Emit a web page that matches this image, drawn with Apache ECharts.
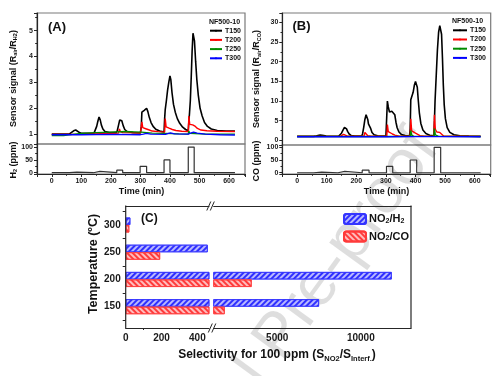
<!DOCTYPE html>
<html><head><meta charset="utf-8">
<script src="https://cdn.jsdelivr.net/npm/echarts@6/dist/echarts.min.js"></script>
<style>html,body{margin:0;padding:0;background:#fff}#c{width:504px;height:376px}</style>
</head><body><div id="c"></div>
<script>
const FONT = '"Liberation Sans", Arial, Helvetica, sans-serif';

// ---------- DATA ----------
const tempNames = ['T150', 'T200', 'T250', 'T300'];
const tempColors = ['#000000', '#ff0000', '#008a00', '#0000ff'];

// Panel A : signal to H2 (Rair/RH2), [time min, signal]
const aT150 = [[0,1.0],[30,1.0],[60,1.01],[66,1.06],[74,1.13],[81,1.16],[87,1.13],[94,1.06],[102,1.03],[125,1.03],[143,1.04],[148,1.1],[152,1.3],[156,1.5],[160,1.66],[164,1.55],[168,1.35],[173,1.2],[180,1.1],[195,1.06],[218,1.06],[222,1.15],[226,1.35],[230,1.55],[233,1.62],[237,1.52],[242,1.32],[247,1.18],[255,1.1],[275,1.06],[300,1.05],[303,1.3],[305,1.85],[309,1.87],[313,1.92],[317,1.98],[321,2.0],[325,1.88],[330,1.65],[336,1.45],[343,1.3],[352,1.19],[365,1.12],[380,1.08],[382,1.6],[384,1.95],[388,2.3],[392,2.7],[396,3.0],[400,3.25],[403,3.1],[407,2.6],[412,2.15],[418,1.85],[425,1.6],[433,1.42],[443,1.27],[453,1.18],[462,1.13],[464,1.5],[466,1.78],[469,2.3],[472,3.2],[475,4.2],[478,4.9],[480,4.95],[483,4.6],[487,3.8],[491,3.1],[496,2.5],[502,2.0],[509,1.7],[517,1.45],[527,1.3],[540,1.2],[560,1.14],[590,1.12],[620,1.12]];
const aT200 = [[0,0.99],[100,1.0],[200,1.03],[226,1.04],[229,1.2],[232,1.1],[240,1.06],[300,1.05],[303,1.06],[305,1.48],[308,1.25],[313,1.2],[318,1.21],[322,1.22],[328,1.17],[340,1.12],[360,1.1],[382,1.08],[384,1.6],[387,1.28],[392,1.22],[397,1.23],[402,1.24],[408,1.18],[420,1.14],[440,1.11],[462,1.1],[464,1.7],[467,1.38],[472,1.33],[477,1.36],[481,1.37],[486,1.3],[493,1.22],[505,1.16],[525,1.13],[560,1.11],[620,1.1]];
const aT250 = [[0,0.95],[40,0.95],[70,0.99],[100,1.03],[150,1.06],[200,1.08],[250,1.1],[280,1.09],[303,1.08],[305,1.13],[308,1.06],[340,1.04],[382,1.03],[384,1.08],[387,1.03],[430,1.01],[462,1.0],[464,1.12],[467,1.03],[520,1.0],[620,1.0]];
const aT300 = [[0,0.98],[100,0.98],[200,0.99],[300,0.98],[310,1.0],[320,1.03],[335,1.0],[385,0.99],[395,1.03],[402,1.05],[415,1.01],[462,1.0],[472,1.05],[480,1.08],[492,1.04],[520,1.0],[570,0.98],[620,0.97]];
const h2Steps = [[0,0],[60,2],[85,0],[141,5],[163,0],[220,10],[240,0],[299,25],[321,0],[380,50],[400,0],[462,100],[482,0],[620,0]];

// Panel B : signal to CO (Rair/RCO)
const bT150 = [[0,1.0],[55,1.0],[62,1.05],[70,1.2],[78,1.33],[84,1.32],[90,1.2],[98,1.08],[110,1.02],[140,1.02],[145,1.2],[150,1.8],[155,2.6],[160,3.3],[163,3.4],[167,2.9],[171,2.2],[176,1.6],[183,1.2],[195,1.05],[218,1.05],[221,1.6],[225,3.3],[229,5.3],[233,6.5],[236,6.6],[239,5.2],[241,4.2],[244,4.3],[248,3.1],[253,2.0],[260,1.4],[272,1.15],[300,1.05],[303,1.5],[305,10.0],[308,8.5],[312,7.2],[316,7.0],[320,7.4],[326,7.5],[330,6.5],[334,4.6],[338,3.2],[344,2.1],[352,1.5],[365,1.2],[380,1.1],[382,3.0],[384,10.3],[388,10.8],[392,12.2],[396,14.0],[400,15.0],[403,15.3],[406,13.5],[409,10.5],[413,7.0],[418,4.3],[425,2.6],[435,1.7],[448,1.3],[462,1.15],[464,5.0],[466,10.0],[470,16.5],[474,23.0],[478,27.5],[482,29.2],[485,29.3],[488,27.0],[491,21.0],[494,14.0],[497,9.0],[501,5.5],[507,3.2],[516,2.0],[530,1.4],[550,1.15],[580,1.05],[620,1.0]];
const bT200 = [[0,1.0],[145,1.0],[150,1.1],[157,1.5],[162,1.3],[170,1.05],[226,1.05],[229,2.0],[232,1.6],[238,1.2],[250,1.05],[303,1.05],[305,4.0],[308,2.2],[313,1.7],[322,1.6],[330,1.3],[345,1.05],[382,1.05],[384,5.5],[387,2.4],[392,1.9],[400,1.8],[406,1.6],[415,1.2],[430,1.05],[462,1.05],[464,6.5],[467,2.8],[472,2.1],[482,2.0],[486,1.5],[495,1.1],[620,1.0]];
const bT250 = [[0,0.95],[303,0.95],[305,1.3],[308,1.0],[382,1.0],[384,2.5],[387,1.3],[395,1.0],[462,1.0],[464,3.0],[467,1.4],[478,1.0],[620,0.95]];
const bT300 = [[0,0.9],[150,0.9],[300,0.9],[400,0.92],[480,0.93],[620,0.9]];
const coSteps = [[0,0],[56,2],[83,0],[138,5],[161,0],[220,10],[243,0],[302,25],[323,0],[382,50],[404,0],[463,100],[485,0],[620,0]];

// Panel C : selectivity for 100 ppm
const tempCats = ['150', '200', '250', '300'];
const selH2 = [7500, 11850, 458, 26];
const selCO = [1860, 3470, 192, 20];

// ---------- HELPERS ----------
const DARK = '#262626';
function plainNum(v) { return String(v); }
function valAxis(grid, min, max, split, extra) {
  return Object.assign({
    gridIndex: grid, type: 'value', min: min, max: max, splitNumber: split,
    axisLine: { show: true, onZero: false, lineStyle: { color: DARK, width: 1.2 } },
    axisTick: { show: true, inside: false, length: 3, lineStyle: { color: DARK, width: 1 } },
    minorTick: { show: true, splitNumber: 2, length: 1.8, lineStyle: { color: DARK, width: 1 } },
    axisLabel: { show: true, fontSize: 7, fontWeight: 'bold', fontFamily: FONT, color: '#1a1a1a', margin: 4, showMinLabel: false, showMaxLabel: false, formatter: plainNum },
    splitLine: { show: false }, minorSplitLine: { show: false }
  }, extra || {});
}
function hiddenAxis(grid, min, max) {
  return { gridIndex: grid, type: 'value', min: min, max: max, show: false, splitLine: { show: false } };
}
function lineSeries(name, data, color, xi, yi, w) {
  return { type: 'line', name: name, data: data, xAxisIndex: xi, yAxisIndex: yi, symbol: 'circle', symbolSize: 2, showSymbol: false,
    lineStyle: { color: color, width: w || 1.4 }, itemStyle: { color: color }, clip: true, animation: false };
}
function stepSeries(data, xi, yi) {
  return { type: 'line', name: 'gas' + xi, data: data, xAxisIndex: xi, yAxisIndex: yi, symbol: 'none', step: 'end',
    lineStyle: { color: '#333', width: 1.2 }, itemStyle: { color: '#333' }, animation: false };
}
function gtext(x, y, text, size, extra) {
  const st = Object.assign({ text: text, fontSize: size, fontWeight: 'bold', fontFamily: FONT, fill: '#111', align: 'left', verticalAlign: 'middle' }, extra && extra.style || {});
  const o = { type: 'text', x: x, y: y, silent: true, style: st, z: 50 };
  if (extra && extra.rotation) o.rotation = extra.rotation;
  return o;
}
function subRich(size) {
  return { s: { fontSize: size, fontWeight: 'bold', fontFamily: FONT, fill: '#111', color: '#111', verticalAlign: 'bottom', lineHeight: size } };
}
function gline(x1, y1, x2, y2, color, w) {
  return { type: 'line', silent: true, z: 50, shape: { x1: x1, y1: y1, x2: x2, y2: y2 }, style: { stroke: color, lineWidth: w } };
}

const blueDecal = { symbol: 'rect', symbolSize: 1, color: '#2f2fff', dashArrayX: [1, 0], dashArrayY: [1.4, 1.6], rotation: -Math.PI / 4 };
const redDecal = { symbol: 'rect', symbolSize: 1, color: '#ff3b3b', dashArrayX: [1, 0], dashArrayY: [1.4, 1.6], rotation: Math.PI / 4 };
const blueStyle = { color: '#b8b8ff', borderColor: '#3535ff', borderWidth: 0.8, decal: blueDecal };
const redStyle = { color: '#ffbcbc', borderColor: '#ff3a3a', borderWidth: 0.8, decal: redDecal };

const gridBorder = { show: true, borderColor: '#7a7a7a', borderWidth: 1.2, backgroundColor: 'transparent' };
const legendText = { fontSize: 7, fontWeight: 'bold', fontFamily: FONT, color: '#111', padding: [0, 0, 0, -2] };

// ---------- OPTION ----------
const option = {
  animation: false,
  backgroundColor: '#ffffff',
  grid: [
    Object.assign({ left: 37, top: 13, width: 208, height: 131 }, gridBorder),
    Object.assign({ left: 37, top: 144, width: 208, height: 30 }, gridBorder),
    Object.assign({ left: 282.3, top: 13, width: 208.4, height: 132 }, gridBorder),
    Object.assign({ left: 282.3, top: 145, width: 208.4, height: 29 }, gridBorder),
    { left: 125.7, top: 211.4, width: 83.3, height: 108.9 },
    { left: 213.7, top: 211.4, width: 197.3, height: 108.9 }
  ],
  xAxis: [
    hiddenAxis(0, -50, 654),
    valAxis(1, -50, 654, 7),
    hiddenAxis(2, -50, 654),
    valAxis(3, -50, 654, 7),
    valAxis(4, 0, 465, 2, { offset: 7.7, axisLabel: { fontSize: 10, fontWeight: 'bold', fontFamily: FONT, color: '#1a1a1a', margin: 5, showMinLabel: true, showMaxLabel: false, formatter: plainNum }, axisTick: { length: 3.5, lineStyle: { color: DARK } }, minorTick: { show: true, splitNumber: 2, length: 2, lineStyle: { color: DARK } } }),
    { gridIndex: 4, type: 'value', min: 0, max: 465, position: 'top', offset: 5.4, axisLine: { show: true, onZero: false, lineStyle: { color: DARK, width: 1.2 } }, axisTick: { show: false }, axisLabel: { show: false }, splitLine: { show: false } },
    valAxis(5, 1200, 13000, 2, { offset: 7.7, axisLabel: { fontSize: 10, fontWeight: 'bold', fontFamily: FONT, color: '#1a1a1a', margin: 5, showMinLabel: false, showMaxLabel: false, formatter: plainNum }, axisTick: { length: 3.5, lineStyle: { color: DARK } }, minorTick: { show: false } }),
    { gridIndex: 5, type: 'value', min: 1200, max: 13000, position: 'top', offset: 5.4, axisLine: { show: true, onZero: false, lineStyle: { color: DARK, width: 1.2 } }, axisTick: { show: false }, axisLabel: { show: false }, splitLine: { show: false } }
  ],
  yAxis: [
    valAxis(0, 0.62, 5.68, 5),
    valAxis(1, -5, 112, 2),
    valAxis(2, -1.2, 32.4, 6),
    valAxis(3, -5, 109, 2),
    { gridIndex: 4, type: 'category', data: tempCats, axisLine: { show: false }, axisTick: { show: true, length: 3, lineStyle: { color: DARK } },
      axisLabel: { fontSize: 10, fontWeight: 'bold', fontFamily: FONT, color: '#1a1a1a', margin: 5 }, splitLine: { show: false } },
    { gridIndex: 5, type: 'category', data: tempCats, show: false }
  ],
  legend: [
    { data: tempNames, orient: 'vertical', left: 209, top: 27.2, padding: 0, itemWidth: 12, itemHeight: 2.4, itemGap: 2.2, textStyle: legendText },
    { data: tempNames, orient: 'vertical', left: 452, top: 26.8, padding: 0, itemWidth: 14, itemHeight: 2.4, itemGap: 2.2, textStyle: legendText },
    { data: ['NO2/H2', 'NO2/CO'], orient: 'vertical', left: 343, top: 213, padding: 0, itemWidth: 22, itemHeight: 10, itemGap: 5.5,
      formatter: function (n) { return n === 'NO2/H2' ? 'NO{s|2}/H{s|2}' : 'NO{s|2}/CO'; },
      textStyle: { fontSize: 11, fontWeight: 'bold', fontFamily: FONT, color: '#111', padding: [0, 0, 0, -2], rich: subRich(7) } }
  ],
  series: [
    lineSeries('T150', aT150, tempColors[0], 0, 0, 1.6),
    lineSeries('T200', aT200, tempColors[1], 0, 0),
    lineSeries('T250', aT250, tempColors[2], 0, 0),
    lineSeries('T300', aT300, tempColors[3], 0, 0),
    stepSeries(h2Steps, 1, 1),
    lineSeries('T150', bT150, tempColors[0], 2, 2, 1.6),
    lineSeries('T200', bT200, tempColors[1], 2, 2),
    lineSeries('T250', bT250, tempColors[2], 2, 2),
    lineSeries('T300', bT300, tempColors[3], 2, 2),
    stepSeries(coSteps, 3, 3),
    { type: 'bar', name: 'NO2/H2', data: selH2, xAxisIndex: 4, yAxisIndex: 4, barWidth: 7.5, barGap: '0%', itemStyle: blueStyle, clip: true },
    { type: 'bar', name: 'NO2/CO', data: selCO, xAxisIndex: 4, yAxisIndex: 4, barWidth: 7.5, barGap: '0%', itemStyle: redStyle, clip: true },
    { type: 'bar', name: 'NO2/H2', data: selH2, xAxisIndex: 6, yAxisIndex: 5, barWidth: 7.5, barGap: '0%', itemStyle: blueStyle, clip: true },
    { type: 'bar', name: 'NO2/CO', data: selCO, xAxisIndex: 6, yAxisIndex: 5, barWidth: 7.5, barGap: '0%', itemStyle: redStyle, clip: true }
  ],
  graphic: [
    // watermark
    { type: 'text', x: 160, y: 556, rotation: 0.94, silent: true, z: 0,
      style: { text: 'Journal Pre-proof', fontSize: 64, fontFamily: FONT, fill: 'rgba(0,0,0,0.13)', align: 'left', verticalAlign: 'bottom' } },
    // panel labels
    gtext(48, 27, '(A)', 13),
    gtext(292.5, 26.5, '(B)', 13),
    gtext(141, 218.5, '(C)', 12),
    gtext(209, 21.7, 'NF500-10', 7),
    gtext(452, 21, 'NF500-10', 7),
    // axis titles
    gtext(141.5, 191.5, 'Time (min)', 9, { style: { align: 'center' } }),
    gtext(386.5, 191.5, 'Time (min)', 9, { style: { align: 'center' } }),
    gtext(13.3, 78.5, 'Sensor signal (R{s|air}/R{s|H2})', 9, { rotation: Math.PI / 2, style: { align: 'center', lineHeight: 11, rich: subRich(5.5) } }),
    gtext(13.3, 160, 'H{s|2} (ppm)', 9, { rotation: Math.PI / 2, style: { align: 'center', lineHeight: 11, rich: subRich(5.5) } }),
    gtext(256.5, 79, 'Sensor signal (R{s|air}/R{s|CO})', 9, { rotation: Math.PI / 2, style: { align: 'center', lineHeight: 11, rich: subRich(5.5) } }),
    gtext(256.5, 161, 'CO (ppm)', 9, { rotation: Math.PI / 2, style: { align: 'center' } }),
    gtext(94, 264, 'Temperature (ºC)', 12.5, { rotation: Math.PI / 2, style: { align: 'center' } }),
    gtext(277, 355, 'Selectivity for 100 ppm (S{s|NO2}/S{s|Interf.})', 12, { style: { align: 'center', lineHeight: 15, rich: subRich(7.5) } }),
    // panel C frame verticals
    gline(125.7, 205.4, 125.7, 328.6, DARK, 1.2),
    gline(411, 205.4, 411, 328.6, DARK, 1.2),
    // axis break marks
    gline(206.8, 210.5, 210.8, 201.5, DARK, 1),
    gline(210.3, 210.5, 214.3, 201.5, DARK, 1),
    gline(208.3, 332.5, 212.3, 323.5, DARK, 1),
    gline(211.8, 332.5, 215.8, 323.5, DARK, 1)
  ]
};

const chart = echarts.init(document.getElementById('c'), null, { renderer: 'canvas', width: 504, height: 376 });
chart.setOption(option);
</script>
</body></html>
